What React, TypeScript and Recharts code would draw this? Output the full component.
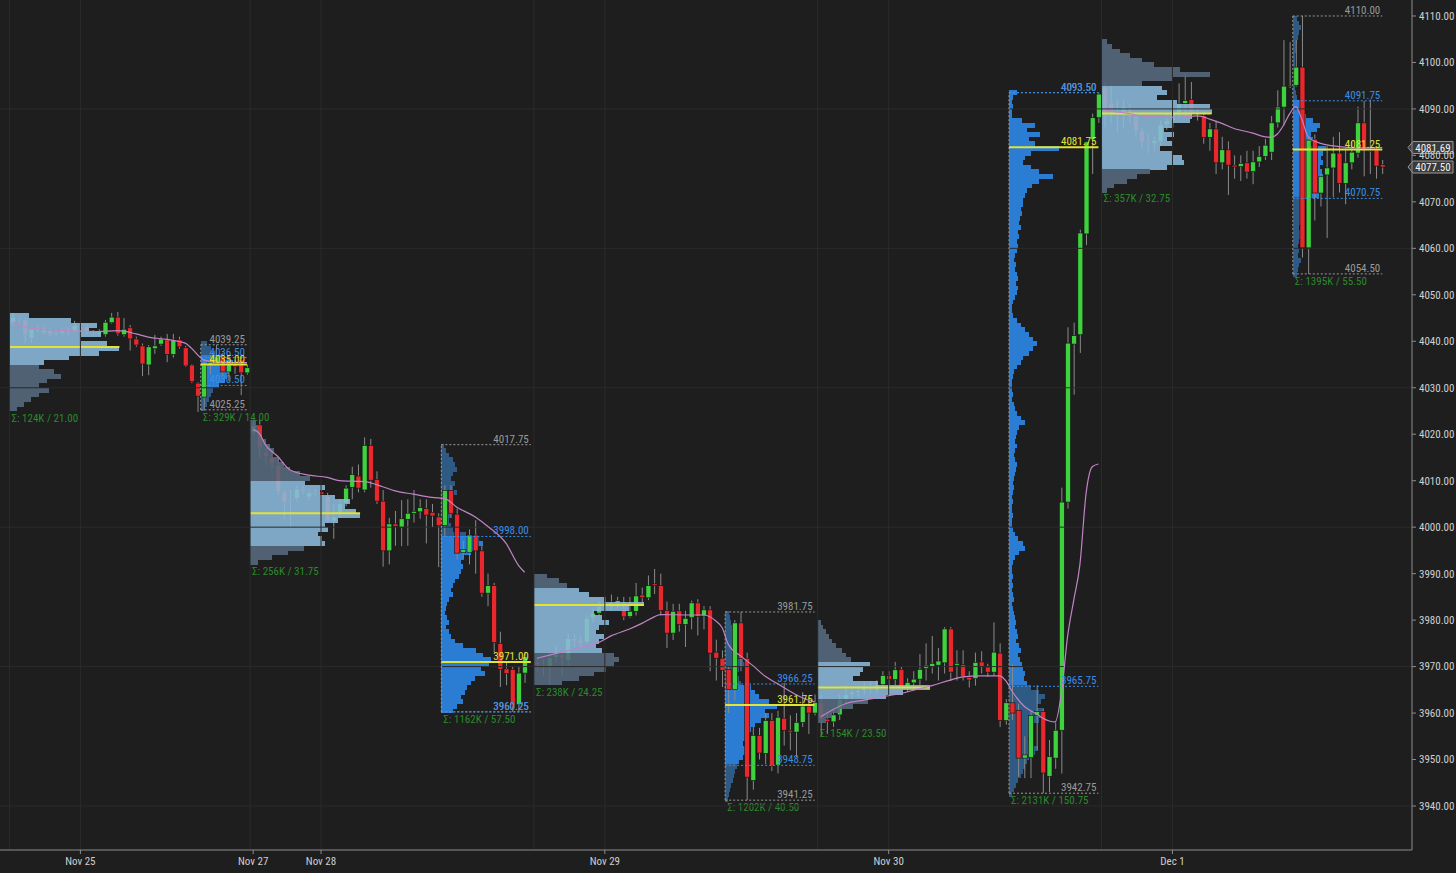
import React from 'react';
import { ComposedChart, Bar, Line, XAxis, YAxis, ReferenceLine } from 'recharts';

// ---------- layout / style ----------
const W = 1456;
const H = 873;
const BG = '#1e1e1e';
const GRID = '#2b2b2b';
const AXIS = '#8c8c8c';
const TXT = '#cfcfcf';
const GREEN = '#3fd23f';
const RED = '#e8282c';
const WICK = '#8a8a8a';
const ETH_VA = '#8bbbdc';
const ETH_OUT = '#566b7f';
const RTH_VA = '#2b7cd3';
const RTH_OUT = '#2e5a84';
const POC_C = '#e3e335';
const HL_C = '#9a9a9a';
const VA_C = '#3a8ee6';
const SIGMA_C = '#2b8a2b';
const VWAP_C = '#c283c6';
const FONT = "'Liberation Sans Narrow', 'Roboto Condensed', 'DejaVu Sans Condensed', 'Liberation Sans', sans-serif";
const VOL_PX = 1;

// ---------- axes ----------
// x = 30-minute bar index, 0 = Nov 29 00:00 bar
const X_DOMAIN = [-99.03, 129.82];
const Y_DOMAIN = [3930.53, 4113.44];
const Y_TICKS = [3940, 3950, 3960, 3970, 3980, 3990, 4000, 4010, 4020, 4030, 4040, 4050, 4060, 4070, 4080, 4090, 4100, 4110];
const X_TICK_SLOTS = [-86, -58, -47, -1, 45, 91];
const X_TICK_LABELS = ['Nov 25', 'Nov 27', 'Nov 28', 'Nov 29', 'Nov 30', 'Dec 1'];
const GRID_PRICES = [4090, 4060, 4030, 4000, 3970, 3940];
const GRID_SLOTS = [-97.5, -86, -58.5, -47, -12.5, -1, 33.5, 45, 79.5, 91];

// ---------- candles [open, high, low, close] ----------
const SESSION_STARTS = [-97, -58, -12, 34, 80];
const nov25 = [
  [4043.9, 4046.1, 4043.5, 4045.2], [4044.6, 4045.0, 4044.0, 4044.4], [4044.6, 4045.0, 4039.6, 4041.4], [4040.7, 4043.0, 4039.6, 4042.6],
  [4042.6, 4043.5, 4042.0, 4042.9], [4042.9, 4043.5, 4041.4, 4041.8], [4042.4, 4042.8, 4041.0, 4041.4], [4041.6, 4042.5, 4041.0, 4041.9],
  [4041.8, 4042.8, 4041.4, 4042.3], [4042.3, 4042.8, 4041.4, 4041.9], [4042.0, 4044.4, 4041.8, 4043.4], [4043.4, 4044.0, 4042.8, 4043.2],
  [4043.2, 4043.6, 4041.4, 4041.8], [4041.8, 4042.4, 4041.2, 4041.6], [4041.6, 4042.6, 4041.2, 4042.0], [4041.4, 4044.6, 4041.0, 4044.1],
  [4044.0, 4046.1, 4043.8, 4045.2], [4045.2, 4046.3, 4041.2, 4041.6], [4041.4, 4045.0, 4041.0, 4042.6], [4042.9, 4043.5, 4038.0, 4040.5],
  [4040.5, 4041.0, 4038.8, 4039.2], [4039.0, 4039.5, 4032.5, 4035.1], [4034.9, 4039.2, 4032.7, 4038.8], [4038.4, 4041.4, 4037.3, 4039.0],
  [4039.4, 4041.0, 4039.0, 4040.5], [4040.3, 4041.6, 4035.5, 4037.2], [4037.2, 4041.6, 4036.5, 4040.3], [4040.3, 4041.0, 4038.4, 4038.8],
  [4038.6, 4039.0, 4034.5, 4034.7], [4034.9, 4035.1, 4031.0, 4031.3], [4031.0, 4031.2, 4024.8, 4028.2], [4028.0, 4036.0, 4025.25, 4034.9],
  [4035.0, 4037.0, 4033.0, 4035.5], [4035.3, 4039.25, 4035.0, 4036.6], [4036.6, 4037.5, 4032.8, 4033.4], [4033.4, 4037.0, 4031.5, 4035.1],
  [4035.0, 4036.0, 4033.0, 4034.5], [4036.0, 4036.8, 4028.4, 4033.2], [4033.2, 4035.0, 4032.8, 4034.3],
];
const nov28 = [
  [4020.3, 4022.6, 4019.8, 4021.8], [4022.0, 4023.0, 4015.0, 4017.0], [4016.2, 4017.0, 4013.5, 4015.1], [4014.9, 4016.0, 4012.7, 4013.6],
  [4013.4, 4015.0, 4007.0, 4007.6], [4007.6, 4008.0, 4001.8, 4005.4], [4006.0, 4008.0, 4000.0, 4005.6], [4006.2, 4009.0, 4005.5, 4008.2],
  [4008.2, 4009.0, 4007.0, 4007.6], [4006.5, 4008.0, 4005.8, 4007.4], [4007.4, 4008.2, 4006.5, 4007.0], [4007.6, 4008.2, 4006.6, 4007.0],
  [4006.7, 4007.4, 4000.9, 4001.3], [4001.3, 4005.0, 3997.5, 4002.2], [4003.0, 4006.0, 4002.0, 4005.0], [4005.2, 4009.0, 4004.5, 4008.4],
  [4008.6, 4013.0, 4006.0, 4011.3], [4011.0, 4013.5, 4007.5, 4008.4], [4008.0, 4019.3, 4007.5, 4017.6], [4017.6, 4019.0, 4008.5, 4010.1],
  [4010.3, 4012.0, 4005.0, 4005.6], [4005.6, 4008.0, 3991.5, 3994.9], [3994.9, 4002.0, 3992.0, 4000.7], [4000.7, 4003.5, 3996.0, 4000.2],
  [4000.0, 4005.8, 3995.9, 4001.8], [4001.7, 4006.0, 3996.0, 4003.0], [4003.0, 4008.0, 4001.0, 4003.4], [4003.3, 4006.0, 4001.8, 4004.2],
  [4004.0, 4006.0, 3996.5, 4002.6], [4003.2, 4005.0, 4000.0, 4002.4], [4002.2, 4003.0, 3991.4, 4000.3], [4000.4, 4009.0, 3998.0, 4007.9],
  [4007.9, 4009.0, 4002.0, 4003.0], [4002.8, 4004.0, 3993.0, 3994.4], [3994.5, 3997.0, 3993.0, 3995.2], [3994.6, 3999.5, 3992.0, 3998.3],
  [3998.3, 4001.5, 3990.0, 3994.9], [3994.9, 3996.0, 3985.0, 3985.8], [3985.8, 3990.0, 3983.0, 3987.4], [3987.4, 3988.0, 3973.0, 3975.2],
  [3975.0, 3977.5, 3965.6, 3969.4], [3969.5, 3971.0, 3966.0, 3968.5], [3969.4, 3970.0, 3960.25, 3961.7], [3961.8, 3970.0, 3960.3, 3968.6],
  [3968.6, 3973.2, 3966.5, 3972.1],
];
const nov29 = [
  [3971.0, 3972.0, 3969.0, 3970.4], [3970.3, 3971.5, 3968.0, 3970.0], [3969.8, 3973.0, 3966.0, 3971.9], [3972.0, 3974.5, 3971.0, 3972.6],
  [3972.6, 3973.0, 3968.0, 3971.7], [3971.3, 3977.0, 3970.0, 3976.0], [3976.0, 3977.0, 3974.0, 3975.4], [3975.7, 3976.5, 3974.2, 3975.0],
  [3975.3, 3981.0, 3974.8, 3980.4], [3980.5, 3982.5, 3979.5, 3981.5], [3981.5, 3984.0, 3981.0, 3982.9], [3982.9, 3985.0, 3982.0, 3983.5],
  [3983.9, 3985.5, 3982.0, 3983.3], [3983.5, 3985.0, 3982.5, 3984.2], [3982.3, 3985.0, 3980.0, 3980.7], [3980.8, 3985.0, 3980.5, 3981.9],
  [3981.9, 3988.0, 3981.0, 3985.2], [3985.4, 3987.0, 3983.5, 3984.8], [3984.8, 3989.6, 3984.3, 3987.4], [3987.8, 3991.0, 3985.6, 3987.4],
  [3987.4, 3990.0, 3981.0, 3982.1], [3982.1, 3984.0, 3974.0, 3977.2], [3977.2, 3983.5, 3975.7, 3981.9], [3982.0, 3983.5, 3977.5, 3979.1],
  [3979.1, 3982.0, 3974.2, 3980.4], [3980.5, 3984.2, 3978.0, 3983.7], [3983.7, 3984.5, 3976.7, 3980.8], [3980.9, 3983.0, 3978.0, 3982.2],
  [3982.2, 3983.0, 3969.0, 3972.9], [3973.1, 3975.8, 3967.0, 3971.8], [3971.8, 3973.5, 3965.6, 3969.2], [3969.4, 3970.0, 3960.0, 3965.1],
  [3965.1, 3980.0, 3962.7, 3979.4], [3979.4, 3981.75, 3969.0, 3971.7], [3971.8, 3973.0, 3941.25, 3946.2], [3945.5, 3957.0, 3943.5, 3955.2],
  [3955.2, 3956.8, 3950.0, 3951.4], [3951.3, 3960.0, 3949.0, 3958.4], [3958.4, 3960.0, 3947.5, 3948.6], [3948.8, 3960.5, 3947.0, 3959.1],
  [3958.9, 3966.5, 3953.0, 3956.3], [3956.3, 3959.5, 3952.0, 3955.9], [3955.9, 3960.0, 3950.5, 3958.0], [3958.0, 3964.5, 3957.0, 3961.5],
  [3961.5, 3963.5, 3955.5, 3960.0], [3960.0, 3964.0, 3959.5, 3962.3],
];
const nov30 = [
  [3962.3, 3964.0, 3955.0, 3958.7], [3958.7, 3960.0, 3955.5, 3958.2], [3958.1, 3961.0, 3957.0, 3959.6], [3959.6, 3964.0, 3958.5, 3962.9],
  [3963.0, 3966.0, 3962.0, 3964.0], [3964.0, 3965.5, 3962.8, 3964.5], [3964.5, 3966.0, 3963.5, 3964.9], [3964.8, 3966.5, 3964.0, 3965.5],
  [3965.5, 3966.8, 3964.2, 3964.9], [3964.9, 3967.0, 3964.0, 3966.1], [3966.1, 3969.0, 3965.5, 3968.1], [3968.1, 3969.0, 3965.8, 3967.2],
  [3967.2, 3971.0, 3966.0, 3969.3], [3969.4, 3970.0, 3964.8, 3965.4], [3965.5, 3967.5, 3964.5, 3966.6], [3966.5, 3969.0, 3965.0, 3967.3],
  [3967.3, 3972.7, 3966.0, 3969.4], [3969.6, 3975.0, 3967.0, 3970.3], [3969.9, 3976.6, 3968.5, 3970.7], [3970.3, 3974.0, 3967.0, 3971.2],
  [3970.8, 3978.5, 3968.5, 3978.1], [3978.1, 3978.5, 3966.9, 3968.8], [3970.3, 3973.5, 3967.0, 3970.7], [3970.4, 3973.5, 3967.0, 3967.8],
  [3967.7, 3969.0, 3965.5, 3967.1], [3967.4, 3973.0, 3965.9, 3970.9], [3971.0, 3973.3, 3968.5, 3970.0], [3969.9, 3970.6, 3967.8, 3968.8],
  [3968.8, 3979.5, 3968.0, 3973.1], [3972.9, 3975.0, 3957.0, 3958.4], [3958.4, 3963.0, 3957.5, 3962.2], [3962.2, 3970.5, 3958.5, 3960.0],
  [3960.6, 3962.0, 3946.3, 3950.3], [3950.3, 3955.0, 3946.0, 3951.0], [3950.4, 3960.5, 3946.0, 3959.5], [3959.5, 3966.0, 3952.0, 3960.3],
  [3960.3, 3961.0, 3942.75, 3947.1], [3946.4, 3954.2, 3943.0, 3950.6], [3950.3, 3958.0, 3948.0, 3956.3], [3956.3, 4008.5, 3947.0, 4005.4],
  [4005.4, 4043.0, 4004.0, 4039.6], [4039.4, 4044.0, 4028.5, 4041.2], [4041.4, 4064.0, 4037.5, 4063.3], [4063.1, 4083.0, 4060.7, 4082.9],
  [4083.4, 4089.0, 4076.0, 4088.1], [4088.1, 4093.5, 4087.0, 4093.2],
];
const dec1 = [
  [4094.7, 4095.6, 4086.0, 4088.5], [4091.3, 4095.0, 4087.0, 4089.1], [4089.1, 4092.0, 4085.0, 4088.6], [4088.6, 4092.0, 4086.0, 4090.5],
  [4090.3, 4091.0, 4087.0, 4088.3], [4088.5, 4089.0, 4084.0, 4085.3], [4085.3, 4086.0, 4081.5, 4082.9], [4082.9, 4084.5, 4080.5, 4082.5],
  [4082.5, 4084.0, 4081.0, 4083.2], [4083.0, 4087.5, 4082.0, 4086.6], [4086.6, 4089.0, 4085.5, 4087.5], [4087.5, 4090.5, 4086.0, 4089.3],
  [4089.2, 4095.5, 4088.0, 4091.2], [4091.2, 4097.5, 4088.5, 4091.8], [4092.0, 4095.8, 4088.3, 4089.3], [4089.3, 4090.0, 4087.5, 4089.0],
  [4088.5, 4089.5, 4082.5, 4083.9], [4083.9, 4087.0, 4081.0, 4085.7], [4085.7, 4087.5, 4076.0, 4078.4], [4078.4, 4084.0, 4077.0, 4081.2],
  [4081.2, 4083.0, 4071.5, 4077.9], [4077.9, 4080.0, 4075.0, 4077.5], [4077.6, 4080.0, 4074.5, 4078.3], [4078.4, 4081.0, 4075.0, 4076.4],
  [4076.5, 4081.0, 4073.8, 4078.6], [4078.6, 4082.0, 4077.5, 4079.8], [4079.8, 4083.5, 4079.0, 4082.2], [4080.7, 4088.5, 4079.0, 4087.0],
  [4087.0, 4094.0, 4086.0, 4090.4], [4090.4, 4104.8, 4086.5, 4094.9], [4094.9, 4104.4, 4094.5, 4095.1], [4095.1, 4104.8, 4094.8, 4099.0],
  [4099.0, 4110.0, 4058.0, 4060.1], [4060.1, 4084.0, 4054.5, 4083.3], [4083.5, 4084.5, 4066.0, 4071.9], [4071.9, 4076.0, 4069.0, 4075.4],
  [4075.8, 4082.0, 4062.2, 4077.3], [4077.3, 4084.0, 4071.0, 4080.5], [4080.5, 4085.0, 4072.0, 4074.0], [4074.0, 4081.5, 4069.5, 4078.4],
  [4078.4, 4083.0, 4077.0, 4080.7], [4080.5, 4090.5, 4079.5, 4087.0], [4087.0, 4091.7, 4075.5, 4081.2], [4081.0, 4092.0, 4076.0, 4080.8],
  [4081.2, 4081.5, 4075.0, 4077.7], [4078.0, 4079.0, 4076.0, 4077.5],
];
const SESSIONS = [nov25, nov28, nov29, nov30, dec1];

// ---------- session VWAP [slot, price] ----------
const vwap25 = [[-97, 4044.2], [-94, 4042.8], [-88, 4042.3], [-83, 4042.1], [-80, 4042.3], [-77, 4041.6], [-75, 4040.9], [-72, 4040.4], [-69, 4039.6], [-68, 4038.5], [-66, 4036.0], [-64, 4035.5], [-59, 4035.4]];
const vwap28 = [[-58, 4021.0], [-57, 4020.2], [-56, 4017.7], [-54, 4015.2], [-52, 4012.3], [-49, 4011.2], [-46, 4010.7], [-44, 4010.0], [-40, 4009.8], [-37, 4008.7], [-35, 4007.8], [-32, 4007.1], [-29, 4006.4], [-27, 4006.2], [-25, 4004.3], [-22, 4002.2], [-20, 4000.2], [-17, 3996.5], [-15, 3991.8], [-14, 3990.3]];
const vwap29 = [[-12, 3971.8], [-8, 3973.1], [-5, 3974.1], [-2, 3975.2], [0, 3976.6], [3, 3978.1], [5, 3979.3], [7, 3980.7], [8, 3981.2], [13, 3981.1], [15, 3981.1], [17, 3979.8], [18, 3978.4], [19, 3974.8], [21, 3972.3], [23, 3970.2], [25, 3967.9], [27, 3966.3], [29, 3964.7], [31, 3963.3], [33, 3962.4]];
const vwap30 = [[34, 3959.2], [38, 3962.0], [41, 3962.8], [44, 3963.5], [47, 3964.2], [49, 3964.9], [52, 3965.9], [55, 3967.1], [57, 3967.8], [60, 3968.0], [63, 3968.0], [64, 3966.9], [65, 3964.7], [67, 3961.4], [69, 3959.8], [70, 3958.9], [72, 3958.1], [73, 3964.3], [74, 3976.5], [75, 3984.3], [76, 3992.0], [77, 4007.3], [78, 4013.0], [79, 4013.6]];
const vwapDec1 = [[80, 4089.7], [84, 4089.0], [87, 4088.3], [92, 4088.2], [95, 4088.5], [96, 4088.3], [97, 4087.8], [99, 4086.9], [101, 4085.8], [104, 4084.8], [106, 4084.0], [107, 4083.9], [108, 4084.6], [109, 4086.5], [110, 4089.0], [111, 4090.5], [112, 4087.6], [113, 4084.0], [115, 4082.6], [118, 4081.9], [121, 4081.6], [125, 4081.7]];
const VWAPS = [vwap25, vwap28, vwap29, vwap30, vwapDec1];

// ---------- volume profiles (1-point rows from top price downward) ----------
const volA = [20, 62, 88, 80, 92, 72, 98, 110, 90, 60, 35, 30, 45, 52, 38, 30, 40, 30, 22, 15, 8];
const volB = [6, 10, 14, 20, 32, 30, 28, 26, 24, 18, 12, 10, 8, 6, 4];
const volC = [6, 8, 10, 12, 16, 20, 24, 22, 28, 34, 40, 50, 60, 55, 75, 70, 85, 100, 95, 106, 110, 88, 75, 78, 68, 72, 75, 54, 38, 22, 8];
const volD = [3, 5, 8, 12, 14, 16, 12, 10, 14, 12, 16, 12, 10, 8, 12, 10, 8, 10, 12, 25, 38, 42, 36, 30, 22, 20, 22, 20, 18, 14, 12, 10, 12, 8, 6, 5, 4, 6, 8, 5, 8, 10, 14, 22, 35, 42, 50, 48, 40, 44, 34, 30, 26, 24, 20, 22, 16, 12];
const volE = [13, 25, 33, 45, 55, 70, 110, 95, 60, 68, 75, 65, 62, 70, 65, 62, 68, 80, 85, 80, 72, 60, 45, 28];
const volF = [4, 5, 6, 7, 8, 8, 9, 10, 12, 14, 18, 20, 14, 12, 14, 16, 26, 30, 34, 44, 52, 40, 44, 36, 30, 26, 24, 20, 18, 20, 22, 18, 14, 12, 10, 9, 8, 6, 5, 4, 3];
const volG = [3, 5, 8, 11, 14, 18, 24, 28, 33, 52, 45, 42, 35, 60, 112, 85, 68, 50, 35, 22, 14, 8];
const volH = [
  8, 4, 3, 4, 3, 3, 13, 26, 18, 31, 20, 26, 50, 22, 16, 14, 22, 30, 44, 30, 23, 18, 16, 14,
  14, 12, 13, 11, 10, 12, 9, 10, 8, 9,
  8, 6, 5, 7, 6, 8, 9, 7, 9, 8,
  6, 4, 3, 3, 4, 8, 12, 16, 20, 24,
  28, 24, 20, 14, 12, 8, 5, 4, 3, 3,
  3, 4, 3, 5, 6, 8, 12, 16, 10, 8,
  7, 6, 8, 6, 5, 6, 8, 7, 6, 5,
  4, 5, 4, 3, 4, 3, 3, 4, 3, 3,
  4, 6, 9, 14, 16, 10, 6, 4, 3, 3,
  4, 3, 4, 3, 4, 5, 3, 4, 5, 6,
  7, 6, 8, 9, 7, 10, 12, 9, 11, 13,
  14, 16, 15, 18, 22, 30, 36, 32, 28, 34,
  36, 30, 24, 20, 22, 19, 24, 29, 26, 20,
  18, 16, 14, 12, 9, 7, 5, 3,
];
const volI = [5, 10, 18, 28, 40, 52, 78, 108, 70, 40, 60, 65, 55, 75, 108, 110, 90, 88, 70, 62, 72, 65, 70, 58, 70, 80, 82, 65, 48, 35, 25, 12, 5];
const volJ = [4, 6, 8, 6, 5, 4, 3, 3, 2, 2, 2, 3, 2, 3, 3, 2, 3, 4, 8, 10, 12, 13, 20, 27, 24, 18, 20, 17, 33, 30, 28, 30, 27, 29, 30, 28, 27, 30, 26, 10, 9, 8, 7, 8, 9, 6, 7, 8, 6, 5, 6, 5, 8, 6, 5, 4];
const PROF_VOLS = [volA, volB, volC, volD, volE, volF, volG, volH, volI, volJ];
const PROF_SLOTS = [-97, -66, -58, -27, -12, 19, 34, 65, 80, 111];
const PROF_END = [-59, -59, -13, -13, 33, 33, 79, 79, 125, 125];
const PROF_KINDS = ['eth', 'rth', 'eth', 'rth', 'eth', 'rth', 'eth', 'rth', 'eth', 'rth'];
const PROF_TOPS = [4046, 4040, 4023, 4018, 3990, 3982, 3980, 4094, 4105, 4110];
const PROF_HIGH = [4046.0, 4039.25, 4023.75, 4017.75, 3990.25, 3981.75, 3980.75, 4093.5, 4105.0, 4110.0];
const PROF_LOW = [4025.0, 4025.25, 3992.0, 3960.25, 3966.0, 3941.25, 3957.25, 3942.75, 4072.25, 4054.5];
const PROF_VAH = [4046.0, 4036.5, 4009.8, 3998.0, 3987.0, 3966.25, 3971.0, 4093.5, 4094.6, 4091.75];
const PROF_VAL = [4035.3, 4030.5, 3996.0, 3960.25, 3973.0, 3948.75, 3963.5, 3965.75, 4076.8, 4070.75];
const PROF_POC = [4038.75, 4035.0, 4003.0, 3971.0, 3983.25, 3961.75, 3965.5, 4081.75, 4089.0, 4081.25];
const PROF_TOTAL_K = [124, 329, 256, 1162, 238, 1202, 154, 2131, 357, 1395];

const TAG_VALUES = [4081.69, 4077.5];

function buildRows() {
  const map = new Map<number, any>();
  const get = (s: number) => {
    if (!map.has(s)) map.set(s, { s });
    return map.get(s);
  };
  SESSIONS.forEach((candles, si) =>
    candles.forEach(([o, h, l, c], i) => {
      const r = get(SESSION_STARTS[si] + i);
      r.hl = [l, h];
      r.o = o;
      r.c = c;
    })
  );
  VWAPS.forEach((pts, si) => pts.forEach(([s, v]) => { get(s)['v' + si] = v; }));
  PROF_SLOTS.forEach((s, i) => {
    const r = get(s);
    const n = PROF_VOLS[i].length;
    const rng = [PROF_TOPS[i] - n, PROF_TOPS[i]];
    if (PROF_KINDS[i] === 'rth') { r.rpr = rng; r.rpi = i; } else { r.epr = rng; r.epi = i; }
  });
  return Array.from(map.values()).sort((a, b) => a.s - b.s);
}

const CandleShape = (props: any) => {
  const { x, y, width, height, payload } = props;
  if (!payload || !payload.hl || !isFinite(y) || !isFinite(height) || !isFinite(x)) return null;
  const [lo, hi] = payload.hl;
  const k = height / (hi - lo);
  const py = (v: number) => y + (hi - v) * k;
  const cx = x + width / 2;
  const up = payload.c >= payload.o;
  const top = py(Math.max(payload.o, payload.c));
  const bot = py(Math.min(payload.o, payload.c));
  const bh = Math.max(1, bot - top);
  return (
    <g>
      <line x1={cx} x2={cx} y1={y} y2={y + height} stroke={WICK} strokeWidth={1} />
      <rect x={x} y={top} width={width} height={bh} fill={up ? GREEN : RED} stroke="#111" strokeWidth={0.6} />
    </g>
  );
};

const makeProfileShape = (kind: string) => (props: any) => {
  const { x, y, height, payload } = props;
  const idx = kind === 'rth' ? payload?.rpi : payload?.epi;
  if (idx == null || !isFinite(y) || !isFinite(height) || !isFinite(x)) return null;
  const vols = PROF_VOLS[idx];
  const n = vols.length;
  const top = PROF_TOPS[idx];
  const k = height / n;
  const py = (v: number) => y + (top - v) * k;
  const left = x;
  const va = kind === 'rth' ? RTH_VA : ETH_VA;
  const out = kind === 'rth' ? RTH_OUT : ETH_OUT;
  const maxV = Math.max(...vols);
  const lowY = py(PROF_LOW[idx]);
  const label = `Σ: ${PROF_TOTAL_K[idx]}K / ${(PROF_HIGH[idx] - PROF_LOW[idx]).toFixed(2)}`;
  return (
    <g>
      <g opacity={kind === 'eth' ? 0.88 : 1}>
        {vols.map((v, i) => {
          const mid = top - i - 0.5;
          const inVa = mid <= PROF_VAH[idx] && mid >= PROF_VAL[idx];
          return (
            <rect key={i} x={left} y={py(top - i)} width={v * VOL_PX} height={k + 0.3}
              fill={inVa ? va : out} shapeRendering="crispEdges" />
          );
        })}
      </g>
      {kind === 'eth' && (
        <line x1={left} x2={left + maxV * VOL_PX} y1={py(PROF_POC[idx])} y2={py(PROF_POC[idx])} stroke={POC_C} strokeWidth={2} />
      )}
      <text x={left + 2} y={lowY + 11} fill={SIGMA_C} fontSize={11} fontFamily={FONT}>{label}</text>
    </g>
  );
};
const RthProfile = makeProfileShape('rth');
const EthProfile = makeProfileShape('eth');

const tagLabel = (text: string) => (p: any) => {
  const vb = p && p.viewBox;
  if (!vb) return null;
  const x0 = vb.x + vb.width;
  const yc = vb.y;
  return (
    <g>
      <path d={`M${x0 - 4},${yc} L${x0 + 1},${yc - 6} L${x0 + 41},${yc - 6} L${x0 + 41},${yc + 6} L${x0 + 1},${yc + 6} Z`}
        fill="#3a3a3a" stroke="#9a9a9a" strokeWidth={1} />
      <text x={x0 + 21} y={yc + 4} textAnchor="middle" fill="#f2f2f2" fontSize={11} fontFamily={FONT}>{text}</text>
    </g>
  );
};

function boxLines(i: number) {
  const x0 = PROF_SLOTS[i] - 0.5;
  const x1 = PROF_END[i];
  const items = [
    { v: PROF_HIGH[i], c: HL_C, dash: '2 2', w: 1 },
    { v: PROF_LOW[i], c: HL_C, dash: '2 2', w: 1 },
    { v: PROF_VAH[i], c: VA_C, dash: '2 2', w: 1 },
    { v: PROF_VAL[i], c: VA_C, dash: '2 2', w: 1 },
    { v: PROF_POC[i], c: POC_C, dash: undefined, w: 2 },
  ];
  const els = [
    <ReferenceLine key={`bx${i}`} xAxisId="m" yAxisId="y" ifOverflow="visible"
      segment={[{ x: x0, y: PROF_LOW[i] }, { x: x0, y: PROF_HIGH[i] }]} stroke={HL_C} strokeDasharray="2 2" />,
  ];
  items.forEach((it, j) => {
    els.push(
      <ReferenceLine key={`b${i}-${j}`} xAxisId="m" yAxisId="y" ifOverflow="visible"
        segment={[{ x: x0, y: it.v }, { x: x1, y: it.v }]} stroke={it.c} strokeWidth={it.w} strokeDasharray={it.dash}
        label={{ value: it.v.toFixed(2), position: 'insideBottomRight', fill: it.c, fontSize: 11, fontFamily: FONT, offset: 2 }} />
    );
  });
  return els;
}

export default function App() {
  const rows = buildRows();
  const rthIdx = PROF_KINDS.map((k, i) => (k === 'rth' ? i : -1)).filter((i) => i >= 0);
  return (
    <div style={{ position: 'absolute', left: 0, top: 0, width: W, height: H, background: BG }}>
      <ComposedChart width={W} height={H} data={rows} margin={{ top: 0, right: 0, bottom: 0, left: 0 }} barCategoryGap={0} barGap={0}>
        <XAxis xAxisId="m" dataKey="s" type="number" domain={X_DOMAIN} allowDataOverflow ticks={X_TICK_SLOTS} interval={0}
          tickFormatter={(v: number) => X_TICK_LABELS[X_TICK_SLOTS.indexOf(v)] ?? ''} height={23}
          axisLine={{ stroke: AXIS }} tickLine={{ stroke: AXIS }} tickSize={4} tickMargin={3}
          tick={{ fill: TXT, fontSize: 11, fontFamily: FONT }} />
        <XAxis xAxisId="p" dataKey="s" type="number" domain={X_DOMAIN} allowDataOverflow hide />
        <XAxis xAxisId="q" dataKey="s" type="number" domain={X_DOMAIN} allowDataOverflow hide />
        <YAxis yAxisId="y" orientation="right" type="number" domain={Y_DOMAIN} allowDataOverflow ticks={Y_TICKS} interval={0}
          width={44} axisLine={{ stroke: AXIS }} tickLine={{ stroke: AXIS }} tickSize={4} tickMargin={3}
          tickFormatter={(v: number) => v.toFixed(2)} tick={{ fill: TXT, fontSize: 11, fontFamily: FONT }} />

        {GRID_PRICES.map((p) => (
          <ReferenceLine key={`gy${p}`} xAxisId="m" yAxisId="y" y={p} stroke={GRID} strokeWidth={1} />
        ))}
        {GRID_SLOTS.map((s) => (
          <ReferenceLine key={`gx${s}`} xAxisId="m" yAxisId="y" x={s} stroke={GRID} strokeWidth={1} />
        ))}

        <Bar xAxisId="p" yAxisId="y" dataKey="rpr" shape={RthProfile} isAnimationActive={false} />
        {rthIdx.map((i) => boxLines(i))}
        <Bar xAxisId="m" yAxisId="y" dataKey="hl" barSize={5} shape={CandleShape} isAnimationActive={false} />
        <Bar xAxisId="q" yAxisId="y" dataKey="epr" shape={EthProfile} isAnimationActive={false} />

        {VWAPS.map((_, si) => (
          <Line key={`vw${si}`} xAxisId="m" yAxisId="y" dataKey={`v${si}`} type="monotone" connectNulls dot={false}
            activeDot={false} stroke={VWAP_C} strokeWidth={1.2} isAnimationActive={false} />
        ))}

        {TAG_VALUES.map((v) => (
          <ReferenceLine key={`tag${v}`} xAxisId="m" yAxisId="y" y={v} stroke="none" ifOverflow="visible"
            label={tagLabel(v.toFixed(2))} />
        ))}
      </ComposedChart>
    </div>
  );
}
